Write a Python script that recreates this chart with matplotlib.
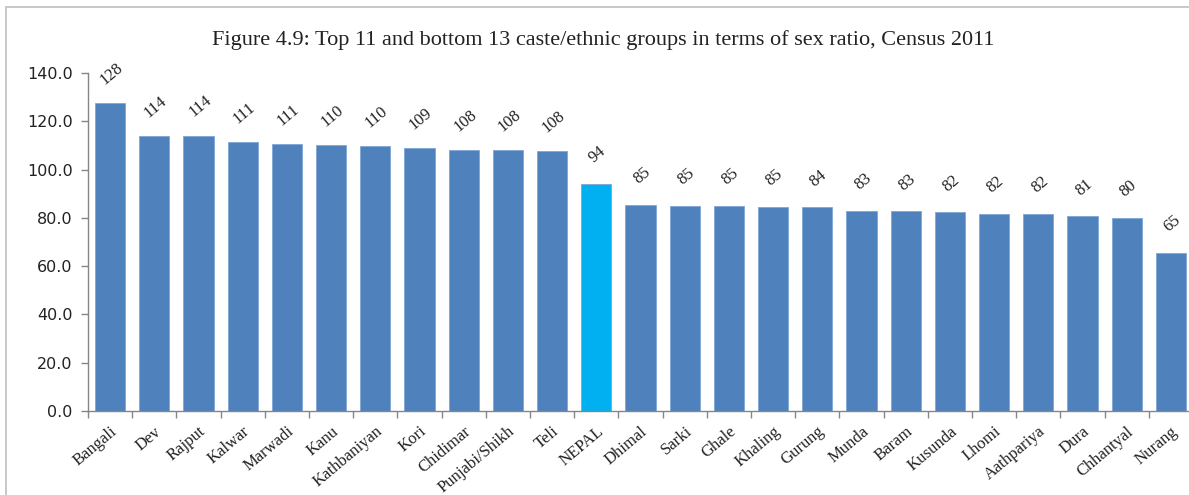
import numpy as np
import matplotlib
matplotlib.use('Agg')
import matplotlib.pyplot as plt
from matplotlib.patches import Rectangle

groups = ['Bangali', 'Dev', 'Rajput', 'Kalwar', 'Marwadi', 'Kanu', 'Kathbaniyan', 'Kori',
          'Chidimar', 'Punjabi/Shikh', 'Teli', 'NEPAL', 'Dhimal', 'Sarki', 'Ghale', 'Khaling',
          'Gurung', 'Munda', 'Baram', 'Kusunda', 'Lhomi', 'Aathpariya', 'Dura', 'Chhantyal', 'Nurang']
sex_ratio = [127.6, 114.0, 114.1, 111.4, 110.6, 110.2, 109.8, 109.0,
             108.1, 108.0, 107.7, 94.2, 85.3, 85.0, 84.9, 84.6,
             84.4, 82.8, 82.7, 82.3, 81.8, 81.6, 80.6, 80.0, 65.4]
yticks = [0, 20, 40, 60, 80, 100, 120, 140]

BLUE = '#4F81BD'
NEPAL_BLUE = '#00B0F0'
GRAY = '#868686'
SERIF = 'Liberation Serif'

fig = plt.figure(figsize=(11.89, 4.95), dpi=100)
# axes: left at x=88px, y=0 at 411px, y=140 at 73px; right runs a bit past the figure edge
ax = fig.add_axes([88 / 1189, (495 - 411) / 495, (1193 - 88) / 1189, (411 - 73) / 495])

x = np.arange(len(groups))
colors = [NEPAL_BLUE if g == 'NEPAL' else BLUE for g in groups]
bars = ax.bar(x, sex_ratio, width=0.68, color=colors, edgecolor='#7FA7D6', linewidth=0.6, zorder=2)

for xi, v in zip(x, sex_ratio):
    ax.annotate(f'{v:.0f}', (xi, v), xytext=(1, 21), textcoords='offset points',
                ha='center', va='center', rotation=40, fontsize=12, family=SERIF,
                color='#222222')

ax.set_xlim(-0.5, len(groups) - 0.5)
ax.set_ylim(0, 140)
ax.set_yticks(yticks)
ax.set_yticklabels([f'{t:.1f}' for t in yticks], fontsize=11.5, family='DejaVu Sans', color='#222222')
ax.tick_params(axis='y', length=5, color=GRAY, width=1, pad=6)

ax.set_xticks(x)
ax.set_xticklabels(groups, rotation=40, ha='right', va='top', rotation_mode='anchor',
                   fontsize=12, family=SERIF, color='#222222')
ax.tick_params(axis='x', which='major', length=0, pad=9)
ax.set_xticks(np.arange(len(groups) + 1) - 0.5, minor=True)
ax.tick_params(axis='x', which='minor', length=5, color=GRAY, width=1)

for s in ['top', 'right']:
    ax.spines[s].set_visible(False)
for s in ['left', 'bottom']:
    ax.spines[s].set_color(GRAY)
    ax.spines[s].set_linewidth(1)

fig.text(603 / 1189, 1 - 40 / 495,
         'Figure 4.9: Top 11 and bottom 13 caste/ethnic groups in terms of sex ratio, Census 2011',
         ha='center', va='center', fontsize=16, family=SERIF, color='#222222')

# outer chart border
fig.patches.append(Rectangle((6 / 1189, -0.05), 1.0, 1 - 7 / 495 + 0.05,
                             transform=fig.transFigure, fill=False,
                             edgecolor='#BFBFBF', linewidth=1.2))

fig.savefig('out.png', dpi=100)
